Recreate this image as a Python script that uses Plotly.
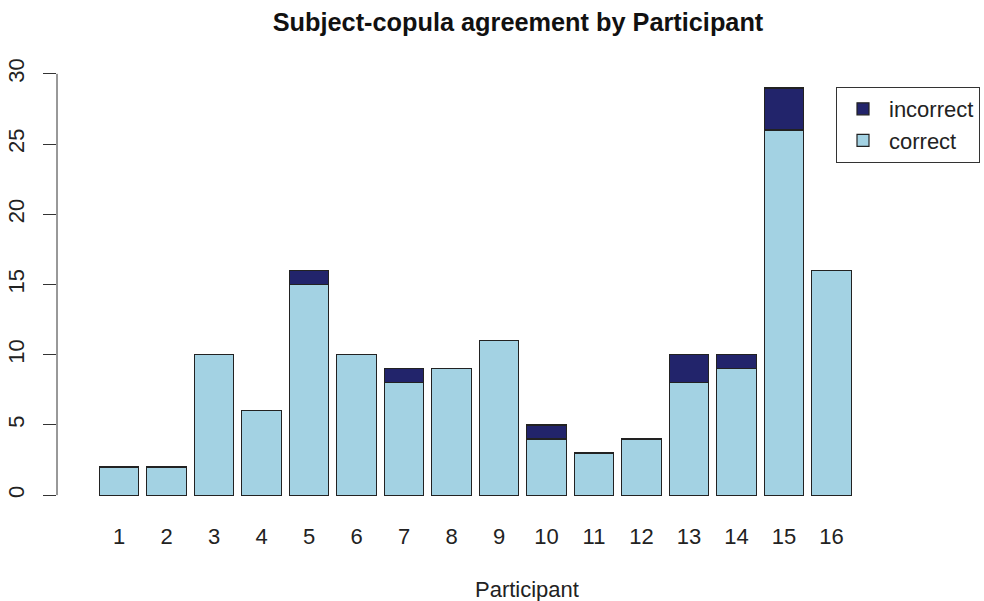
import plotly.graph_objects as go

participants = [str(i) for i in range(1, 17)]
correct = [2, 2, 10, 6, 15, 10, 8, 9, 11, 4, 3, 4, 8, 9, 26, 16]
incorrect = [0, 0, 0, 0, 1, 0, 1, 0, 0, 1, 0, 0, 2, 1, 3, 0]
xpos = list(range(1, 17))

col_correct = "#A3D2E3"
col_incorrect = "#22246B"
FONT = "Liberation Sans, Arial, sans-serif"

L, R, T, B = 57, 1, 57, 89
W, H = 984, 601
pw, ph = W - L - R, H - T - B

fig = go.Figure()
fig.add_trace(go.Bar(x=xpos, y=correct, name="correct", marker=dict(color=col_correct, line=dict(color="#222222", width=1.2)), width=0.833))
fig.add_trace(go.Bar(x=xpos, y=incorrect, name="incorrect", marker=dict(color=col_incorrect, line=dict(color="#222222", width=1.2)), width=0.833))

fig.update_layout(
    barmode="stack",
    width=W, height=H,
    margin=dict(l=L, r=R, t=T, b=B, autoexpand=False),
    paper_bgcolor="white", plot_bgcolor="white",
    font=dict(family=FONT, color="#222222", size=22),
    title=dict(text="<b>Subject-copula agreement by Participant</b>", x=518/W, xanchor="center", xref="container",
               y=1 - 22 / H, yanchor="middle", font=dict(size=25.3, color="#111111")),
    showlegend=True,
    legend=dict(x=(836 - L) / pw, y=(H - B - 87) / ph, xref="paper", yref="paper", xanchor="left", yanchor="top",
                traceorder="reversed", bordercolor="#333333", borderwidth=1, bgcolor="white",
                font=dict(size=22), itemwidth=42, tracegroupgap=0),
    xaxis=dict(range=[-0.306, 19.19], tickmode="array", tickvals=xpos, ticktext=participants,
               showline=False, showgrid=False, zeroline=False, ticks="", tickfont=dict(size=22),
               automargin=False, ticklabelstandoff=9),
    yaxis=dict(range=[-1.2, 31.2], tickvals=[0, 5, 10, 15, 20, 25, 30], showgrid=False, zeroline=False,
               showline=False, ticks="outside", ticklen=13, tickcolor="#333333", tickwidth=1,
               tickangle=-90, tickfont=dict(size=22), automargin=False, ticklabelstandoff=10),
)
fig.add_annotation(text="Participant", xref="paper", yref="paper", x=(527 - L) / pw, y=(H - B - 589) / ph,
                   xanchor="center", yanchor="middle", showarrow=False, font=dict(size=22, color="#222222"))
fig.add_shape(type="line", xref="paper", yref="y", x0=0, x1=0, y0=0, y1=30, line=dict(color="#333333", width=1))
fig.write_html("out.html", post_script="document.body.style.margin='0';", config={"displayModeBar": False})
